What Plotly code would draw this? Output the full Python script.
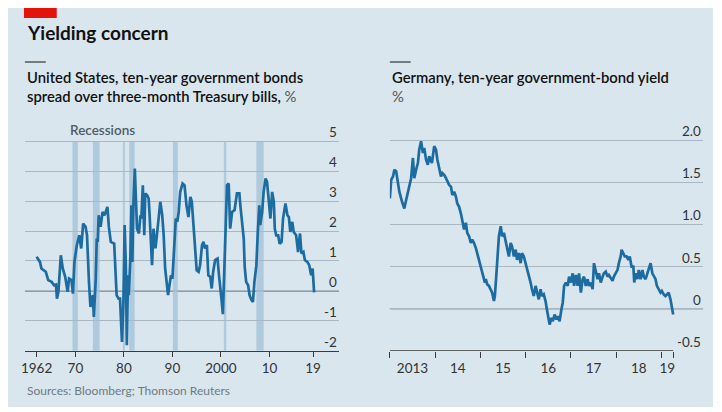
import plotly.graph_objects as go

# ---------------- data ----------------
us_years = [1962.0, 1962.35, 1962.7, 1963.0, 1963.5, 1963.9, 1964.4, 1965.1, 1965.6, 1966.0,
            1966.2, 1966.5, 1967.0, 1967.4, 1967.9, 1968.4, 1968.7, 1969.2, 1969.5, 1969.8,
            1970.3, 1970.8, 1971.2, 1971.6, 1972.1, 1972.4, 1972.8, 1973.1, 1973.6, 1973.8,
            1974.2, 1974.4, 1974.6, 1974.8, 1975.2, 1975.6, 1976.0, 1976.3, 1976.6, 1976.9,
            1977.3, 1978.0, 1978.5, 1978.9, 1979.2, 1979.6, 1979.9, 1980.15, 1980.4, 1980.6,
            1980.85, 1981.0, 1981.3, 1981.55, 1981.75, 1981.95, 1982.25, 1982.5, 1982.7, 1983.1,
            1983.4, 1983.6, 1983.9, 1984.2, 1984.4, 1984.8, 1985.1, 1985.3, 1985.6, 1985.8,
            1986.1, 1986.5, 1986.8, 1987.2, 1987.5, 1987.9, 1988.2, 1988.5, 1988.9, 1989.1,
            1989.4, 1989.7, 1990.0, 1990.4, 1990.7, 1991.0, 1991.3, 1991.6, 1992.1, 1992.5,
            1992.9, 1993.3, 1993.7, 1994.0, 1994.3, 1994.7, 1995.0, 1995.4, 1995.7, 1996.1,
            1996.4, 1996.7, 1997.1, 1997.4, 1997.8, 1998.1, 1998.4, 1998.8, 1999.3, 1999.6,
            1999.8, 2000.1, 2000.4, 2000.7, 2000.95, 2001.25, 2001.6, 2001.9, 2002.3, 2002.8,
            2003.3, 2003.8, 2004.0, 2004.3, 2004.7, 2004.9, 2005.2, 2005.6, 2005.9, 2006.3,
            2006.6, 2006.9, 2007.1, 2007.3, 2007.6, 2007.9, 2008.1, 2008.5, 2008.8, 2009.2,
            2009.5, 2009.9, 2010.2, 2010.55, 2010.9, 2011.1, 2011.4, 2011.8, 2012.1, 2012.5,
            2012.8, 2013.3, 2013.7, 2014.0, 2014.3, 2014.7, 2015.0, 2015.5, 2015.9, 2016.3,
            2016.6, 2017.0, 2017.3, 2017.8, 2018.2, 2018.6, 2018.9, 2019.2]
us_spread = [1.14, 1.03, 0.97, 0.75, 0.69, 0.64, 0.36, 0.30, 0.19, 0.21,
             -0.26, -0.03, 1.19, 0.75, 0.47, -0.03, 0.41, 0.36, -0.09, 0.97,
             1.53, 1.86, 1.42, 2.25, 2.14, 1.86, 0.30, -0.54, -0.14, -0.87,
             0.41, 1.75, 1.64, 2.53, 2.14, 2.64, 2.53, 2.70, 2.81, 2.14,
             1.64, 1.58, -0.14, -0.26, -0.26, -1.71, -0.37, 2.2, 0.86, -1.82,
             0.52, -0.14, 0.97, 2.86, 0.97, 2.86, 4.09, 2.98, 2.08, 1.92,
             2.53, 2.42, 3.53, 1.86, 3.26, 3.20, 3.09, 2.53, 1.64, 0.86,
             2.08, 1.42, 1.86, 2.64, 2.98, 2.53, 1.86, 0.75, 0.08, -0.14,
             0.19, 0.52, 0.41, 1.42, 2.42, 2.31, 2.64, 3.31, 3.59, 3.53,
             2.86, 2.47, 3.14, 2.98, 2.20, 1.53, 0.69, 0.64, 0.86, 1.53,
             1.64, 1.42, 1.53, 0.52, 0.47, 0.08, 0.64, 1.03, 1.08, 0.52,
             0.08, -0.26, -0.78, 0.75, 2.08, 3.53, 3.59, 2.08, 2.64, 2.70,
             3.26, 3.26, 2.86, 2.42, 1.75, 0.80, 0.30, 0.19, -0.14, -0.31,
             -0.37, 0.30, 0.75, 0.86, 1.97, 2.86, 2.2, 2.64, 3.31, 3.76,
             3.65, 2.86, 2.42, 3.31, 2.98, 2.08, 1.86, 1.86, 1.58, 1.64,
             2.42, 2.92, 2.53, 2.47, 1.97, 2.31, 1.97, 1.86, 1.30, 1.92,
             1.25, 1.30, 1.03, 0.97, 0.86, 0.52, 0.75, -0.05]
# recessions (start, end) in decimal years
recessions = [(1969.4, 1970.5), (1973.6, 1975.0), (1979.8, 1980.2), (1981.1, 1982.2),
              (1990.1, 1991.1), (2000.6, 2001.1), (2007.3, 2008.8)]
us_tick_vals = [1962, 1970, 1980, 1990, 2000, 2010, 2019]
us_tick_text = ["1962", "70", "80", "90", "2000", "10", "19"]
us_y_vals = [-2, -1, 0, 1, 2, 3, 4, 5]
us_y_text = ["-2", "-1", "0", "1", "2", "3", "4", "5"]

de_years = [2013.00, 2013.03, 2013.07, 2013.10, 2013.14, 2013.18, 2013.21, 2013.27, 2013.32, 2013.36,
            2013.42, 2013.47, 2013.51, 2013.54, 2013.58, 2013.62, 2013.65, 2013.69, 2013.73, 2013.76,
            2013.80, 2013.84, 2013.87, 2013.93, 2013.98, 2014.02, 2014.05, 2014.09, 2014.13, 2014.16,
            2014.20, 2014.24, 2014.27, 2014.31, 2014.35, 2014.38, 2014.42, 2014.46, 2014.49, 2014.53,
            2014.57, 2014.60, 2014.64, 2014.68, 2014.71, 2014.75, 2014.79, 2014.82, 2014.86, 2014.90,
            2014.93, 2014.97, 2015.01, 2015.03, 2015.06, 2015.10, 2015.12, 2015.15, 2015.19, 2015.23,
            2015.26, 2015.30, 2015.32, 2015.35, 2015.37, 2015.39, 2015.41, 2015.45, 2015.48, 2015.52,
            2015.56, 2015.59, 2015.63, 2015.67, 2015.70, 2015.74, 2015.78, 2015.81, 2015.85, 2015.89,
            2015.92, 2015.96, 2016.00, 2016.03, 2016.07, 2016.11, 2016.14, 2016.18, 2016.22, 2016.25,
            2016.29, 2016.33, 2016.36, 2016.40, 2016.44, 2016.47, 2016.51, 2016.53, 2016.57, 2016.60,
            2016.64, 2016.68, 2016.71, 2016.75, 2016.79, 2016.82, 2016.85, 2016.89, 2016.93, 2016.96,
            2017.00, 2017.04, 2017.07, 2017.11, 2017.15, 2017.18, 2017.22, 2017.26, 2017.29, 2017.33,
            2017.37, 2017.40, 2017.44, 2017.48, 2017.51, 2017.55, 2017.59, 2017.62, 2017.66, 2017.70,
            2017.73, 2017.77, 2017.81, 2017.84, 2017.88, 2017.92, 2017.95, 2017.99, 2018.03, 2018.06,
            2018.10, 2018.12, 2018.16, 2018.19, 2018.23, 2018.27, 2018.30, 2018.34, 2018.38, 2018.40,
            2018.43, 2018.47, 2018.50, 2018.54, 2018.58, 2018.61, 2018.65, 2018.69, 2018.72, 2018.76,
            2018.80, 2018.83, 2018.87, 2018.90, 2018.94, 2018.98, 2019.01, 2019.05, 2019.09, 2019.12,
            2019.16, 2019.20, 2019.23, 2019.26]
de_yield = [1.31, 1.53, 1.57, 1.65, 1.63, 1.49, 1.39, 1.27, 1.19, 1.29,
            1.45, 1.55, 1.79, 1.55, 1.65, 1.73, 1.89, 1.99, 1.85, 1.91,
            1.77, 1.71, 1.81, 1.73, 1.93, 1.89, 1.77, 1.65, 1.57, 1.61,
            1.59, 1.55, 1.51, 1.47, 1.45, 1.35, 1.39, 1.33, 1.25, 1.21,
            1.13, 1.06, 0.94, 1.02, 0.90, 0.86, 0.78, 0.82, 0.78, 0.72,
            0.66, 0.58, 0.50, 0.46, 0.38, 0.31, 0.35, 0.29, 0.27, 0.23,
            0.19, 0.09, 0.15, 0.38, 0.58, 0.70, 0.86, 0.98, 0.86, 0.90,
            0.78, 0.74, 0.62, 0.78, 0.74, 0.62, 0.70, 0.58, 0.66, 0.54,
            0.66, 0.62, 0.54, 0.48, 0.42, 0.31, 0.23, 0.15, 0.27, 0.19,
            0.11, 0.23, 0.15, 0.17, 0.09, -0.01, -0.13, -0.19, -0.11, -0.15,
            -0.07, -0.13, -0.09, -0.15, -0.01, 0.07, 0.27, 0.31, 0.27, 0.38,
            0.31, 0.42, 0.27, 0.40, 0.27, 0.42, 0.19, 0.35, 0.38, 0.27,
            0.35, 0.27, 0.31, 0.23, 0.54, 0.46, 0.35, 0.42, 0.31, 0.38,
            0.42, 0.44, 0.38, 0.40, 0.37, 0.33, 0.38, 0.42, 0.46, 0.54,
            0.62, 0.70, 0.66, 0.62, 0.62, 0.58, 0.62, 0.50, 0.50, 0.31,
            0.42, 0.35, 0.46, 0.35, 0.46, 0.38, 0.35, 0.42, 0.50, 0.54,
            0.42, 0.38, 0.35, 0.27, 0.23, 0.19, 0.21, 0.17, 0.15, 0.17,
            0.19, 0.11, 0.01, -0.07]
de_year_bounds = [2013, 2014, 2015, 2016, 2017, 2018, 2019, 2019.26]
de_label_vals = [2013.5, 2014.5, 2015.5, 2016.5, 2017.5, 2018.5, 2019.13]
de_label_text = ["2013", "14", "15", "16", "17", "18", "19"]
de_y_vals = [-0.5, 0, 0.5, 1.0, 1.5, 2.0]
de_y_text = ["-0.5", "0", "0.5", "1.0", "1.5", "2.0"]

# ---------------- style ----------------
# page has an 8px body margin, so the figure's origin sits at (8, 8) of the window
OFF = 8
W, H = 705, 399
BG = "#d9e6ee"
GRID = "#a9b8c2"
LINE = "#1c6ca1"
RED = "#e3120b"
FONT = "Lato"
DARK = "#3a3a3a"


def px_x(p):
    return (p - OFF) / W


def px_y(p):
    return 1 - (p - OFF) / H


fig = go.Figure()

fig.add_trace(go.Scatter(x=us_years, y=us_spread, mode="lines",
                         line=dict(color=LINE, width=2.7), xaxis="x", yaxis="y",
                         showlegend=False, hoverinfo="skip"))
fig.add_trace(go.Scatter(x=de_years, y=de_yield, mode="lines",
                         line=dict(color=LINE, width=2.7), xaxis="x2", yaxis="y2",
                         showlegend=False, hoverinfo="skip"))

shapes = []
# red tag
shapes.append(dict(type="rect", xref="paper", yref="paper", x0=px_x(20), x1=px_x(53),
                   y0=px_y(18), y1=1.0, fillcolor=RED, line=dict(width=0), layer="above"))
# small black rules above subtitles
for x0 in (21, 388):
    shapes.append(dict(type="line", xref="paper", yref="paper", x0=px_x(x0), x1=px_x(x0 + 21),
                       y0=px_y(62), y1=px_y(62), line=dict(color="#111111", width=1)))
# recession bands
for a, b in recessions:
    shapes.append(dict(type="rect", xref="x", yref="y", x0=a, x1=b, y0=-2, y1=5,
                       fillcolor="#a7c4d8", opacity=0.85, line=dict(width=0), layer="below"))
# zero lines
shapes.append(dict(type="line", xref="x domain", yref="y", x0=0, x1=1, y0=0, y1=0,
                   line=dict(color=RED, width=1.2), layer="below"))
shapes.append(dict(type="line", xref="x2 domain", yref="y2", x0=0, x1=1, y0=0, y1=0,
                   line=dict(color=RED, width=1.2), layer="below"))
# right chart axis line (ends at last data tick)
shapes.append(dict(type="line", xref="x2", yref="y2", x0=de_year_bounds[0], x1=de_year_bounds[-1],
                   y0=-0.5, y1=-0.5, line=dict(color=DARK, width=1.2)))

axis_font = dict(family=FONT, size=13.5, color="#333333")

annotations = [
    dict(text="<b>Yielding concern</b>", x=px_x(21), y=px_y(33), xref="paper", yref="paper",
         xanchor="left", yanchor="middle", showarrow=False,
         font=dict(family=FONT, size=19, color="#111111")),
    dict(text="United States, ten-year government bonds<br>spread over three-month Treasury bills, <span style='font-weight:400;color:#555'>%</span>",
         x=px_x(21), y=px_y(86), xref="paper", yref="paper", xanchor="left", yanchor="middle",
         align="left", showarrow=False,
         font=dict(family=FONT, size=14.8, color="#111111", weight=600)),
    dict(text="Germany, ten-year government-bond yield<br><span style='font-weight:400;color:#555'>%</span>",
         x=px_x(388), y=px_y(86), xref="paper", yref="paper", xanchor="left", yanchor="middle",
         align="left", showarrow=False,
         font=dict(family=FONT, size=14.8, color="#111111", weight=600)),
    dict(text="Recessions", x=px_x(99), y=px_y(130), xref="paper", yref="paper",
         xanchor="center", yanchor="middle", showarrow=False,
         font=dict(family=FONT, size=13.5, color="#4f5d68", weight=600)),
    dict(text="Sources: Bloomberg; Thomson Reuters", x=px_x(21), y=px_y(390), xref="paper",
         yref="paper", xanchor="left", yanchor="middle", showarrow=False,
         font=dict(family=FONT, size=12, color="#6e7a84")),
]
# value labels sit just above each gridline, right-aligned to the plot edge
for v, t in zip(us_y_vals, us_y_text):
    annotations.append(dict(text=t, x=1, y=v, xref="x domain", yref="y", xanchor="right",
                            yanchor="middle", yshift=9, showarrow=False, font=axis_font))
for v, t in zip(de_y_vals, de_y_text):
    annotations.append(dict(text=t, x=1, y=v, xref="x2 domain", yref="y2", xanchor="right",
                            yanchor="middle", yshift=9, showarrow=False, font=axis_font))

fig.update_layout(
    width=W, height=H,
    margin=dict(l=0, r=0, t=0, b=0),
    paper_bgcolor=BG, plot_bgcolor="rgba(0,0,0,0)",
    shapes=shapes, annotations=annotations,
    xaxis=dict(domain=[px_x(21), px_x(336.7)], range=[1959.6, 2024.3], anchor="y",
               showgrid=False, zeroline=False, showline=True, linecolor=DARK, linewidth=1.2,
               ticks="outside", ticklen=5, tickcolor=DARK, tickwidth=1,
               tickmode="array", tickvals=us_tick_vals, ticktext=us_tick_text,
               tickfont=axis_font),
    yaxis=dict(domain=[px_y(350.7), px_y(135.4)], range=[-2, 5.2], anchor="x", side="right",
               showgrid=True, gridcolor=GRID, gridwidth=1, zeroline=False, showline=False,
               tickmode="array", tickvals=us_y_vals, showticklabels=False, ticks=""),
    xaxis2=dict(domain=[px_x(388), px_x(703)], range=[2013.0, 2019.92], anchor="y2",
                showgrid=False, zeroline=False, showline=False,
                tickmode="array", tickvals=de_label_vals, ticktext=de_label_text,
                ticks="outside", ticklen=5, tickcolor="rgba(0,0,0,0)",
                minor=dict(tickmode="array", tickvals=de_year_bounds, ticks="outside",
                           ticklen=6, tickcolor=DARK, tickwidth=1, showgrid=False),
                tickfont=axis_font),
    yaxis2=dict(domain=[px_y(350.7), px_y(131.9)], range=[-0.5, 2.1], anchor="x2", side="right",
                showgrid=True, gridcolor=GRID, gridwidth=1, zeroline=False, showline=False,
                tickmode="array", tickvals=de_y_vals, showticklabels=False, ticks=""),
)

fig.write_html("out.html")
